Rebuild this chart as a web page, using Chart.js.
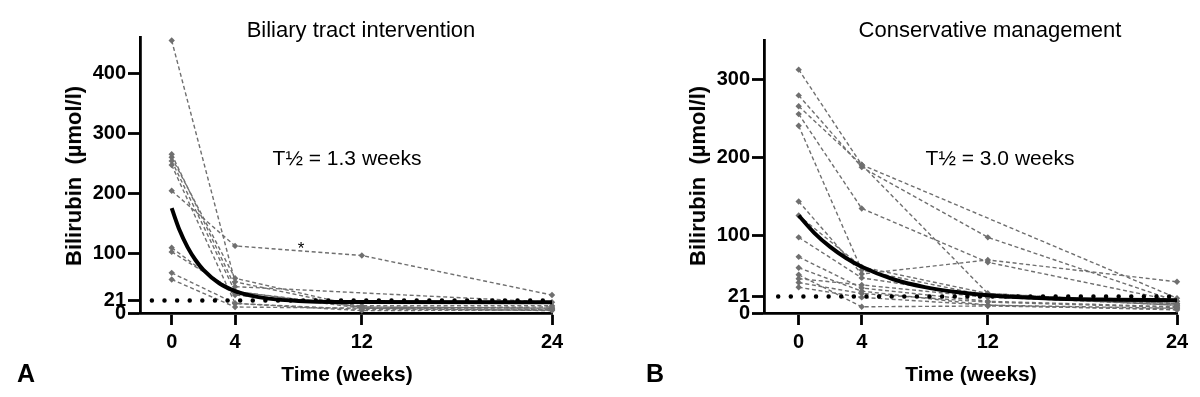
<!DOCTYPE html>
<html>
<head>
<meta charset="utf-8">
<script src="https://cdn.jsdelivr.net/npm/chart.js@4/dist/chart.umd.min.js"></script>
<style>
  html, body { margin: 0; padding: 0; background: #fff; }
  #page { position: relative; width: 1200px; height: 397px; overflow: hidden; font-family: 'Liberation Sans', Arial, sans-serif; color: #000; }
  .panel { position: absolute; top: 0; width: 600px; height: 397px; }
  .txt { position: absolute; line-height: 1; white-space: nowrap; }
  .center { transform: translateX(-50%); }
  .ytitle { position: absolute; line-height: 1; white-space: nowrap; font-weight: bold; font-size: 22px; transform: translate(-50%, -50%) rotate(-90deg); }
</style>
</head>
<body>
<div id="page">
  <div class="panel" style="left:0"><canvas id="chart-a" width="600" height="397"></canvas></div>
  <div class="panel" style="left:600px"><canvas id="chart-b" width="600" height="397"></canvas></div>

  <div class="txt center" style="left:361px; top:19px; font-size:22px;">Biliary tract intervention</div>
  <div class="txt center" style="left:990px; top:19px; font-size:22px;">Conservative management</div>
  <div class="txt center" style="left:347px; top:147px; font-size:21px;">T½ = 1.3 weeks</div>
  <div class="txt center" style="left:1000px; top:147px; font-size:21px;">T½ = 3.0 weeks</div>
  <div class="txt center" style="left:301px; top:240px; font-size:17px;">*</div>
  <div class="ytitle" style="left:74px; top:176px;">Bilirubin&nbsp;&nbsp;(µmol/l)</div>
  <div class="ytitle" style="left:698px; top:176px;">Bilirubin&nbsp;&nbsp;(µmol/l)</div>
  <div class="txt center" style="left:347px; top:363px; font-size:21px; font-weight:bold;">Time (weeks)</div>
  <div class="txt center" style="left:971px; top:363px; font-size:21px; font-weight:bold;">Time (weeks)</div>
  <div class="txt" style="left:17px; top:361px; font-size:25px; font-weight:bold;">A</div>
  <div class="txt" style="left:646px; top:361px; font-size:25px; font-weight:bold;">B</div>
</div>

<script>
// Sampling times (weeks)
const weeks = [0, 4, 12, 24];
const xTicks = [0, 4, 12, 24];
const upperNormal = 21;

// A: biliary tract intervention, one row per patient (null = not measured)
const biliaryPatients = [
  [455, 52, 8, 10],
  [204, 112, 96, 30],
  [265, 44, null, 18],
  [260, 58, 10, 8],
  [254, 36, 8, 6],
  [247, 16, 4, 5],
  [109, 30, 12, 12],
  [102, 36, 10, 8],
  [67, 16, 6, 5],
  [56, 10, 8, 4],
];
const biliaryFitWeeks = [0, 0.5, 1, 1.5, 2, 3, 4, 5, 6, 8, 12, 24];
const biliaryFitValues = [175, 138, 110, 88.5, 72, 49.7, 36.6, 29, 24.4, 20.2, 18.3, 18];
const biliaryYTicks = [0, 21, 100, 200, 300, 400];

// B: conservative management
const conservativePatients = [
  [312, 190, null, 19],
  [279, 187, 97, 15],
  [265, 190, 25, 12],
  [255, 134, 65, 15],
  [240, 55, 22, 10],
  [143, 50, 68, 40],
  [125, 59, 25, 12],
  [97, 45, 21, 10],
  [72, 32, 15, 8],
  [58, 28, 10, 6],
  [49, 8, 9, 5],
  [44, 36, 20, 12],
  [39, 25, 14, 7],
  [33, 20, 10, 4],
];
const conservativeFitWeeks = [0, 1, 2, 3, 4, 6, 8, 10, 12, 16, 20, 24];
const conservativeFitValues = [125, 102.5, 84.7, 70.5, 59.3, 43.3, 33.2, 26.8, 22.8, 18.7, 17.1, 16.4];
const conservativeYTicks = [0, 21, 100, 200, 300];

const font = "'Liberation Sans', Arial, sans-serif";
const grey = '#6f6f6f';

const buildChart = (id, opts) => {
  const ctx = document.getElementById(id);

  const datasets = [
    // fitted one-phase decay
    {
      data: opts.fitWeeks.map((w, i) => ({ x: w, y: opts.fitValues[i] })),
      borderColor: '#000',
      borderWidth: 4,
      pointRadius: 0,
      cubicInterpolationMode: 'monotone',
      clip: false,
      order: 0,
    },
    // upper limit of normal
    {
      data: [{ x: opts.dotStart, y: upperNormal }, { x: 24, y: upperNormal }],
      borderColor: '#000',
      borderWidth: 4.5,
      borderDash: [0.01, 12.6],
      borderCapStyle: 'round',
      pointRadius: 0,
      clip: false,
      order: 1,
    },
  ];

  opts.patients.forEach((p) => {
    datasets.push({
      data: weeks.map((w, i) => ({ x: w, y: p[i] })),
      borderColor: grey,
      borderWidth: 1.4,
      borderDash: [4, 2.7],
      pointStyle: 'rectRot',
      pointRadius: 3.2,
      pointBackgroundColor: grey,
      pointBorderWidth: 0,
      spanGaps: true,
      clip: false,
      order: 2,
    });
  });

  return new Chart(ctx, {
    type: 'line',
    data: { datasets },
    options: {
      responsive: false,
      animation: false,
      devicePixelRatio: 1,
      layout: {
        padding: { top: opts.top, right: opts.right, left: 0, bottom: 0 },
      },
      scales: {
        x: {
          type: 'linear',
          min: opts.xMin,
          max: 24,
          afterBuildTicks: (s) => { s.ticks = xTicks.map((v) => ({ value: v })); },
          afterFit: (s) => { s.height = 397 - 313; },
          border: { display: true, color: '#000', width: 2.8 },
          grid: { drawOnChartArea: false, tickLength: 12, tickWidth: 2.8, tickColor: '#000' },
          ticks: {
            color: '#000',
            font: { family: font, size: 20, weight: 'bold' },
            padding: 5,
            autoSkip: false,
            maxRotation: 0,
          },
        },
        y: {
          min: 0,
          max: opts.yMax,
          afterBuildTicks: (s) => { s.ticks = opts.yTicks.map((v) => ({ value: v })); },
          afterFit: (s) => { s.width = opts.axisLeft; },
          border: { display: true, color: '#000', width: 2.8 },
          grid: { drawOnChartArea: false, tickLength: 12, tickWidth: 2.8, tickColor: '#000' },
          ticks: {
            color: '#000',
            font: { family: font, size: 20, weight: 'bold' },
            padding: 2,
            autoSkip: false,
          },
        },
      },
      plugins: {
        legend: { display: false },
        tooltip: { enabled: false },
      },
    },
  });
};

buildChart('chart-a', {
  patients: biliaryPatients,
  fitWeeks: biliaryFitWeeks,
  fitValues: biliaryFitValues,
  yTicks: biliaryYTicks,
  yMax: 460,
  xMin: -2,
  dotStart: -1.25,
  axisLeft: 140,
  top: 37.5,
  right: 48,
});

buildChart('chart-b', {
  patients: conservativePatients,
  fitWeeks: conservativeFitWeeks,
  fitValues: conservativeFitValues,
  yTicks: conservativeYTicks,
  yMax: 350,
  xMin: -2.2,
  dotStart: -1.3,
  axisLeft: 164,
  top: 40,
  right: 23,
});
</script>
</body>
</html>
